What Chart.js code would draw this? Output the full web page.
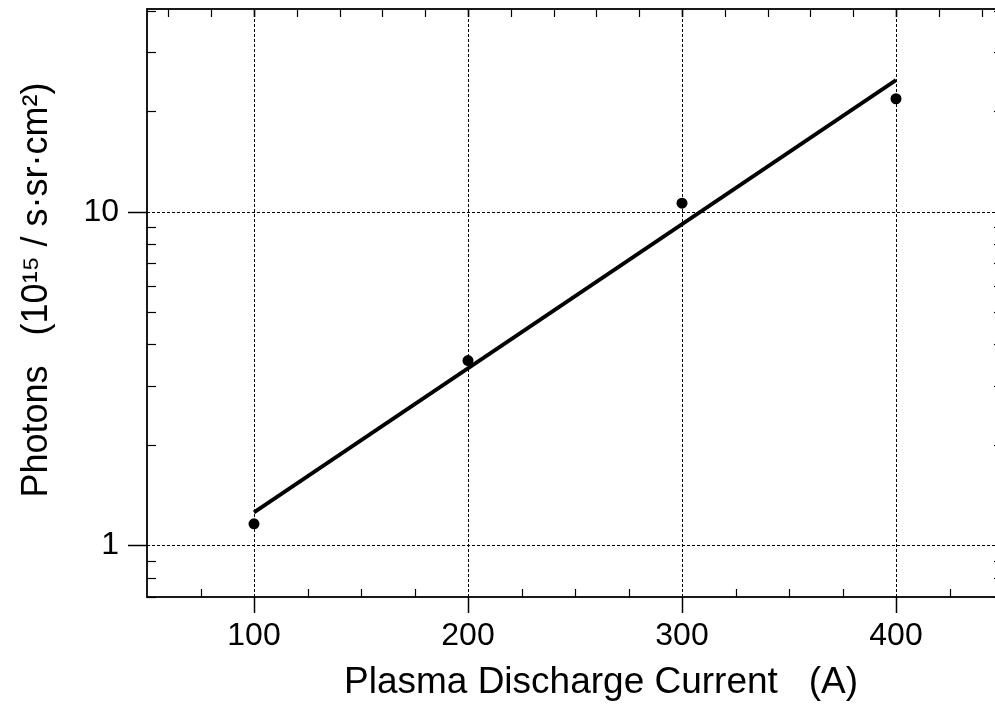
<!DOCTYPE html>
<html>
<head>
<meta charset="utf-8">
<script src="https://cdn.jsdelivr.net/npm/chart.js@4.4.1/dist/chart.umd.min.js"></script>
<style>
  html, body { margin: 0; padding: 0; background: #fff; overflow: hidden; }
  #wrap { position: absolute; left: 0; top: 0; width: 1010px; height: 705px; }
</style>
</head>
<body>
<div id="wrap"><canvas id="photonChart" width="1010" height="705"></canvas></div>
<script>
// ====== DADOS ======
const currents = [100, 200, 300, 400];
const photons = [1.16, 3.58, 10.6, 21.8];

// linha de ajuste (exponencial -> reta no eixo log)
const fitCurrents = [100, 400];
const fitPhotons = [1.255, 24.8];

// ticks
const xLabelTicks = [100, 200, 300, 400];
const xMinorTicks = [75, 125, 150, 175, 225, 250, 275, 325, 350, 375, 425];
const xTopTicks = [60, 80, 100, 120, 140, 160, 180, 200, 220, 240, 260, 280, 300, 320, 340, 360, 380, 400, 420, 440];
const yLabelTicks = [1, 10];
const yMinorTicks = [0.7, 0.8, 0.9, 2, 3, 4, 5, 6, 7, 8, 9, 20, 30, 40];

const X_TITLE = 'Plasma Discharge Current   (A)';
const Y_TITLE = 'Photons   (10¹⁵ / s·sr·cm²)';

const FONT = "'Liberation Sans', Arial, Helvetica, sans-serif";

// ====== PLUGIN: moldura, ticks, grade pontilhada e títulos ======
const framePlugin = {
  id: 'frame',
  beforeDatasetsDraw(chart) {
    const { ctx, chartArea: a, scales } = chart;
    const x = scales.x, y = scales.y;
    ctx.save();
    ctx.strokeStyle = '#000';

    // grade pontilhada
    ctx.lineWidth = 1;
    ctx.setLineDash([3, 2]);
    xLabelTicks.forEach(v => {
      const px = Math.round(x.getPixelForValue(v)) + 0.5;
      ctx.beginPath(); ctx.moveTo(px, a.top); ctx.lineTo(px, a.bottom); ctx.stroke();
    });
    yLabelTicks.forEach(v => {
      const py = Math.round(y.getPixelForValue(v)) + 0.5;
      ctx.beginPath(); ctx.moveTo(a.left, py); ctx.lineTo(a.right, py); ctx.stroke();
    });
    ctx.setLineDash([]);

    // ticks maiores (para fora)
    ctx.lineWidth = 1.5;
    xLabelTicks.forEach(v => {
      const px = Math.round(x.getPixelForValue(v)) + 0.5;
      ctx.beginPath(); ctx.moveTo(px, a.bottom); ctx.lineTo(px, a.bottom + 16); ctx.stroke();
      ctx.beginPath(); ctx.moveTo(px, a.top); ctx.lineTo(px, a.top + 8); ctx.stroke();
    });
    yLabelTicks.forEach(v => {
      const py = Math.round(y.getPixelForValue(v)) + 0.5;
      ctx.beginPath(); ctx.moveTo(a.left - 19, py); ctx.lineTo(a.left, py); ctx.stroke();
    });

    // ticks menores (para dentro)
    ctx.lineWidth = 1.2;
    xMinorTicks.forEach(v => {
      const px = Math.round(x.getPixelForValue(v)) + 0.5;
      ctx.beginPath(); ctx.moveTo(px, a.bottom); ctx.lineTo(px, a.bottom - 8); ctx.stroke();
    });
    xTopTicks.forEach(v => {
      const px = Math.round(x.getPixelForValue(v)) + 0.5;
      ctx.beginPath(); ctx.moveTo(px, a.top); ctx.lineTo(px, a.top + 8); ctx.stroke();
    });
    yMinorTicks.forEach(v => {
      const py = Math.round(y.getPixelForValue(v)) + 0.5;
      ctx.beginPath(); ctx.moveTo(a.left, py); ctx.lineTo(a.left + 9, py); ctx.stroke();
      ctx.beginPath(); ctx.moveTo(a.right, py); ctx.lineTo(a.right - 9, py); ctx.stroke();
    });

    // moldura
    ctx.lineWidth = 1.8;
    ctx.strokeRect(a.left, a.top, a.right - a.left, a.bottom - a.top);
    ctx.restore();
  },
  afterDraw(chart) {
    const { ctx } = chart;
    ctx.save();
    ctx.fillStyle = '#000';
    ctx.font = '37px ' + FONT;
    ctx.textAlign = 'center';
    ctx.textBaseline = 'alphabetic';
    ctx.fillText(X_TITLE, 601, 693);

    ctx.font = '36px ' + FONT;
    ctx.translate(47, 290);
    ctx.rotate(-Math.PI / 2);
    ctx.fillText(Y_TITLE, 0, 0);
    ctx.restore();
  }
};

// ====== GRÁFICO ======
const ctx = document.getElementById('photonChart');
new Chart(ctx, {
  type: 'scatter',
  data: {
    datasets: [
      {
        label: 'Ajuste',
        data: fitCurrents.map((c, i) => ({ x: c, y: fitPhotons[i] })),
        showLine: true,
        borderColor: '#000',
        borderWidth: 3.8,
        pointRadius: 0,
        order: 2
      },
      {
        label: 'Medido',
        data: currents.map((c, i) => ({ x: c, y: photons[i] })),
        backgroundColor: '#000',
        borderColor: '#000',
        pointRadius: 5.5,
        pointBorderWidth: 0,
        order: 1
      }
    ]
  },
  options: {
    responsive: false,
    animation: false,
    layout: { padding: { left: 0, top: 9, right: 7, bottom: 0 } },
    plugins: {
      legend: { display: false },
      tooltip: { enabled: false }
    },
    scales: {
      x: {
        type: 'linear',
        min: 50,
        max: 450,
        afterBuildTicks: scale => { scale.ticks = xLabelTicks.map(v => ({ value: v })); },
        afterFit: scale => { scale.height = 108; scale.paddingLeft = 0; scale.paddingRight = 0; },
        grid: { display: false, drawTicks: false, tickLength: 0 },
        border: { display: false },
        ticks: {
          padding: 20,
          color: '#000',
          font: { family: FONT, size: 32 },
          maxRotation: 0
        },
        title: { display: false }
      },
      y: {
        type: 'logarithmic',
        min: 0.7,
        max: 40.5,
        afterBuildTicks: scale => { scale.ticks = yLabelTicks.map(v => ({ value: v })); },
        afterFit: scale => { scale.width = 147; scale.paddingTop = 0; scale.paddingBottom = 0; },
        grid: { display: false, drawTicks: false, tickLength: 0 },
        border: { display: false },
        ticks: {
          padding: 28,
          color: '#000',
          font: { family: FONT, size: 32 },
          callback: v => String(v)
        },
        title: { display: false }
      }
    }
  },
  plugins: [framePlugin]
});
</script>
</body>
</html>
